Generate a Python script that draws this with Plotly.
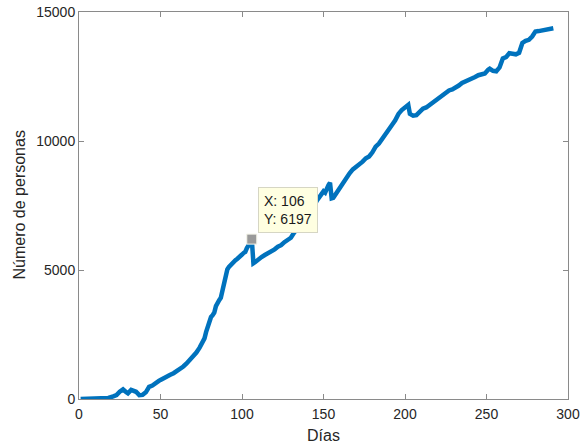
import plotly.graph_objects as go

dias = [1, 5, 10, 15, 18, 21, 23, 25, 27, 29, 30, 32, 33, 35, 37, 39, 41, 42, 43, 45,
        47, 49, 50, 52, 54, 56, 58, 60, 62, 64, 66, 68, 70, 72, 74, 76, 77, 78, 79, 80,
        81, 82, 83, 84, 85, 86, 87, 88, 89, 90, 91, 92, 93, 94, 95, 96, 97, 98, 99, 100,
        101, 102, 103, 104, 105, 106, 107, 108, 110, 112, 114, 116, 118, 120, 122, 124,
        126, 128, 130, 132, 134, 136, 138, 140, 142, 144, 146, 148, 149, 150, 151, 152,
        153, 154, 155, 156, 158, 160, 162, 164, 166, 168, 170, 172, 174, 176, 178, 180,
        182, 184, 186, 188, 190, 192, 194, 196, 198, 200, 201, 202, 203, 205, 207, 209,
        211, 213, 215, 217, 219, 221, 223, 225, 227, 229, 231, 233, 235, 237, 239, 241,
        243, 245, 247, 249, 251, 252, 254, 256, 258, 260, 262, 264, 266, 268, 270, 272,
        274, 276, 278, 280, 282, 284, 286, 288, 290, 291]

personas = [0, 0, 5, 20, 40, 100, 150, 280, 370, 260, 220, 350, 340, 280, 150, 160, 260, 420, 470, 520,
            640, 700, 740, 820, 870, 940, 1000, 1080, 1160, 1260, 1380, 1500, 1640, 1800, 1990, 2200, 2350, 2600, 2800, 3000,
            3180, 3250, 3350, 3600, 3760, 3830, 3920, 4250, 4550, 4850, 5020, 5120, 5200, 5260, 5300, 5380, 5430, 5470, 5520, 5600,
            5660, 5700, 5850, 5920, 6050, 6197, 5260, 5300, 5420, 5500, 5580, 5650, 5700, 5800, 5900, 5960,
            6080, 6180, 6250, 6450, 6620, 6780, 6900, 7030, 7220, 7450, 7700, 7850, 7920, 8050, 8000, 8200,
            8280, 8380, 7780, 7800, 8000, 8200, 8380, 8600, 8750, 8900, 9000, 9070, 9200, 9330, 9400, 9560,
            9780, 9900, 10100, 10300, 10480, 10620, 10800, 11050, 11200, 11300, 11380, 11400, 11050, 10980, 11000, 11120,
            11250, 11300, 11400, 11460, 11560, 11650, 11800, 11900, 11960, 12000, 12060, 12150, 12250, 12300, 12370, 12420,
            12480, 12550, 12580, 12620, 12760, 12800, 12720, 12700, 12850, 13200, 13250, 13400, 13380, 13360, 13420, 13800,
            13880, 13920, 14050, 14240, 14260, 14280, 14300, 14330, 14350, 14370]

tip_x = [106]
tip_y = [6197]

x_ticks = [0, 50, 100, 150, 200, 250, 300]
y_ticks = [0, 5000, 10000, 15000]

FONT = "Liberation Sans, Arial, Helvetica, sans-serif"
AX = "#262626"
LINE = "#8a8a8a"

fig = go.Figure()
fig.add_trace(go.Scatter(x=dias, y=personas, mode="lines",
                         line=dict(color="#0072BD", width=4.5),
                         hoverinfo="skip", showlegend=False))
fig.add_trace(go.Scatter(x=tip_x, y=tip_y, mode="markers",
                         marker=dict(symbol="square", size=10, color="#9a9a9a",
                                     line=dict(color="#f4f4e8", width=1)),
                         hoverinfo="skip", showlegend=False))

fig.add_annotation(x=tip_x[0], y=tip_y[0], xref="x", yref="y",
                   text=f"X: {tip_x[0]}<br>Y: {tip_y[0]}", showarrow=False,
                   xanchor="left", yanchor="bottom", xshift=6, yshift=6,
                   align="left", bgcolor="#FFFFE1", bordercolor="#d6d6c4",
                   borderwidth=1, borderpad=5,
                   font=dict(family=FONT, size=14, color="#1a1a1a"))

# y-axis title, placed as in the reference (closer to the edge than plotly's auto placement)
fig.add_annotation(text="Número de personas", xref="paper", yref="paper", x=0, y=0.5,
                   xanchor="center", yanchor="middle", xshift=-60, textangle=-90,
                   showarrow=False, font=dict(family=FONT, size=16, color=AX))

fig.update_xaxes(range=[0, 300], tickvals=x_ticks, ticktext=[str(v) for v in x_ticks],
                 ticks="inside", ticklen=5, tickcolor=LINE, showline=True, linecolor=LINE,
                 linewidth=1, mirror="ticks", showgrid=False, zeroline=False,
                 ticklabeloverflow="allow", ticklabelstandoff=2,
                 tickfont=dict(family=FONT, size=14, color=AX),
                 title=dict(text="Días", font=dict(family=FONT, size=16, color=AX), standoff=9))
fig.update_yaxes(range=[0, 15000], tickvals=y_ticks, ticktext=[str(v) for v in y_ticks],
                 ticks="inside", ticklen=5, tickcolor=LINE, showline=True, linecolor=LINE,
                 linewidth=1, mirror="ticks", showgrid=False, zeroline=False,
                 ticklabeloverflow="allow",
                 tickfont=dict(family=FONT, size=14, color=AX))

fig.update_layout(width=582, height=447, margin=dict(l=79, r=14, t=12, b=48, autoexpand=False),
                  paper_bgcolor="white", plot_bgcolor="white")

# remove the browser's default 8px page margin so the figure fills the window exactly
fig.write_html("out.html", config={"displayModeBar": False},
               post_script="document.body.style.margin='0px';")
